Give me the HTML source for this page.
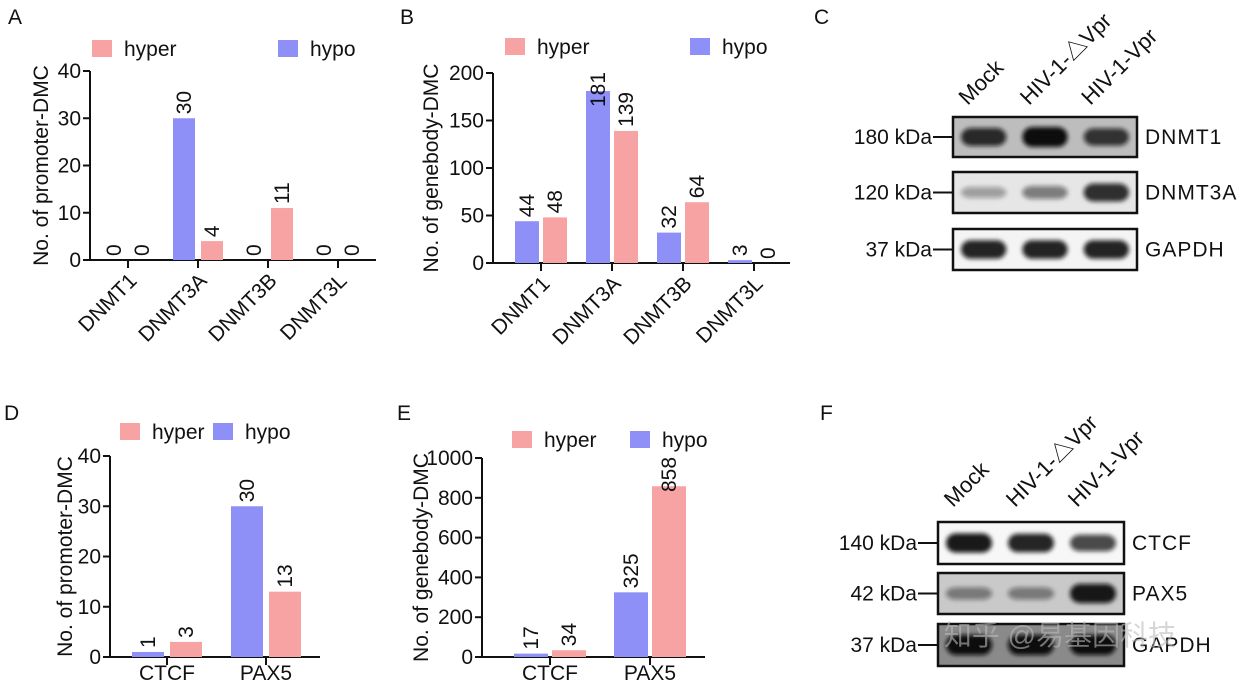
<!DOCTYPE html>
<html><head><meta charset="utf-8">
<style>
html,body{margin:0;padding:0;background:#fff;}
svg{display:block;font-family:"Liberation Sans","Noto Sans CJK SC",sans-serif;}
</style></head>
<body>
<svg id="fig" width="1241" height="688" viewBox="0 0 1241 688" xmlns="http://www.w3.org/2000/svg">
<defs>
<filter id="blur2" x="-20%" y="-50%" width="140%" height="200%"><feGaussianBlur stdDeviation="2"/></filter>
</defs>
<g font-size="21" fill="#111">
<text x="8" y="24">A</text>
<text x="400" y="24">B</text>
<text x="814" y="24">C</text>
<text x="4" y="420">D</text>
<text x="397" y="420">E</text>
<text x="820" y="420">F</text>
</g>
<g id="charts"></g>
<g id="blots"></g>
<text x="1060" y="645" font-size="28" fill="#bbb" fill-opacity="0.6" text-anchor="middle">知乎 @易基因科技</text>
</svg>
<script>
// ---- Panel A data ----
const aCategories = ["DNMT1","DNMT3A","DNMT3B","DNMT3L"];
const aHypo = [0,30,0,0];
const aHyper = [0,4,11,0];
const aTicks = [0,10,20,30,40];
// ---- Panel B data ----
const bCategories = ["DNMT1","DNMT3A","DNMT3B","DNMT3L"];
const bHypo = [44,181,32,3];
const bHyper = [48,139,64,0];
const bTicks = [0,50,100,150,200];
// ---- Panel D data ----
const dCategories = ["CTCF","PAX5"];
const dHypo = [1,30];
const dHyper = [3,13];
const dTicks = [0,10,20,30,40];
// ---- Panel E data ----
const eCategories = ["CTCF","PAX5"];
const eHypo = [17,325];
const eHyper = [34,858];
const eTicks = [0,200,400,600,800,1000];

const NS = "http://www.w3.org/2000/svg";
const HYPO = "#8f8ff8", HYPER = "#f8a3a3";
function el(tag, attrs, parent, text){
  const e = document.createElementNS(NS, tag);
  for (const k in attrs) e.setAttribute(k, attrs[k]);
  if (text !== undefined) e.textContent = text;
  parent.appendChild(e);
  return e;
}
const root = document.getElementById('charts');

function chart(cfg){
  const g = el('g', {}, root);
  
  
  const yMax = cfg.ticks[cfg.ticks.length-1];
  const y = v => cfg.y0 - v/yMax*(cfg.y0-cfg.yTop);
  const x = i => cfg.c0 + i*cfg.step;
  const ya = el('line', {x1:cfg.ax, x2:cfg.ax, y1:cfg.yTop, y2:cfg.y0, stroke:'#111','stroke-width':2}, g);
  
  
  cfg.ticks.forEach(t=>{
    el('line',{x1:cfg.ax-7,x2:cfg.ax,y1:y(t),y2:y(t),stroke:'#111','stroke-width':2},g);
    const tl = el('text',{x:cfg.ax-9,y:y(t)+7,'text-anchor':'end','font-size':21,fill:'#111'},g,String(t));
    
    
  });
  const xa = el('line',{x1:cfg.ax,x2:cfg.axEnd,y1:cfg.y0,y2:cfg.y0,stroke:'#111','stroke-width':2},g);
  
  
  const yt = el('text',{x:0,y:0,'text-anchor':'middle','font-size':21,fill:'#111',transform:`translate(${cfg.ytx},${(cfg.yTop+cfg.y0)/2}) rotate(-90)`},g,cfg.ytitle);
  
  
  cfg.cats.forEach((c,i)=>{
    const cx = x(i);
    el('line',{x1:cx,x2:cx,y1:cfg.y0,y2:cfg.y0+8,stroke:'#111','stroke-width':2},g);
    let lab;
    if (cfg.rotLabels){
      lab = el('text',{x:0,y:0,'text-anchor':'end','font-size':21,fill:'#111',transform:`translate(${cx+10},${cfg.y0+22}) rotate(-45)`},g,c);
    } else {
      lab = el('text',{x:cx,y:cfg.y0+23,'text-anchor':'middle','font-size':21,fill:'#111'},g,c);
    }
    
    
    [[cfg.hypo[i],HYPO,-cfg.off,'bar-hypo'],[cfg.hyper[i],HYPER,cfg.off,'bar-hyper']].forEach(([v,col,o,nm])=>{
      const bx = cx+o-cfg.bw/2;
      const top = y(v);
      if (v>0){
        const r = el('rect',{x:bx,y:top,width:cfg.bw,height:cfg.y0-top,fill:col},g);
        
        
      }
      const s = String(v);
      const len = s.length*12;
      let end = top-4;
      if (end-len < cfg.yTop-2) end = cfg.yTop-2+len;
      const vl = el('text',{x:0,y:0,'text-anchor':'start','font-size':21,fill:'#111',transform:`translate(${cx+o+7},${end}) rotate(-90)`},g,s);
      
      
    });
  });
  [[cfg.leg[0],HYPER,'hyper','legend-hyper'],[cfg.leg[1],HYPO,'hypo','legend-hypo']].forEach(([lx,col,t,nm])=>{
    const lg = el('g',{},g);
    
    
    el('rect',{x:lx,y:cfg.legY,width:20,height:17,fill:col},lg);
    el('text',{x:lx+32,y:cfg.legY+16,'font-size':21,fill:'#111'},lg,t);
  });
}

chart({name:'chart-a',cats:aCategories,hypo:aHypo,hyper:aHyper,ticks:aTicks,ax:90,axEnd:376,y0:260,yTop:71,c0:128,step:70,off:14,bw:22,ytx:48,ytitle:'No. of promoter-DMC',rotLabels:true,leg:[92,278],legY:40});
chart({name:'chart-b',cats:bCategories,hypo:bHypo,hyper:bHyper,ticks:bTicks,ax:493,axEnd:790,y0:263,yTop:73,c0:541,step:71,off:14,bw:24,ytx:438,ytitle:'No. of genebody-DMC',rotLabels:true,leg:[505,690],legY:38});
chart({name:'chart-d',cats:dCategories,hypo:dHypo,hyper:dHyper,ticks:dTicks,ax:110,axEnd:320,y0:657,yTop:456,c0:167,step:99,off:19,bw:32,ytx:72,ytitle:'No. of promoter-DMC',rotLabels:false,leg:[120,213],legY:423});
chart({name:'chart-e',cats:eCategories,hypo:eHypo,hyper:eHyper,ticks:eTicks,ax:482,axEnd:705,y0:657,yTop:458,c0:550,step:100,off:19,bw:34,ytx:428,ytitle:'No. of genebody-DMC',rotLabels:false,leg:[512,630],legY:431});

// ---- blots ----
const blotC_lanes = ["Mock","HIV-1-△Vpr","HIV-1-Vpr"];
const blotC_rows = ["DNMT1","DNMT3A","GAPDH"];
const blotC_kda = ["180 kDa","120 kDa","37 kDa"];
const blotC_int = [[0.85,1.0,0.8],[0.35,0.5,0.85],[0.9,0.9,0.9]];
const blotF_lanes = ["Mock","HIV-1-△Vpr","HIV-1-Vpr"];
const blotF_rows = ["CTCF","PAX5","GAPDH"];
const blotF_kda = ["140 kDa","42 kDa","37 kDa"];
const blotF_int = [[0.95,0.9,0.75],[0.45,0.45,0.95],[1,1,1]];
const broot = document.getElementById('blots');
function blot(cfg){
  const g = el('g',{},broot);
  
  
  const w = cfg.x1-cfg.x0;
  cfg.lanes.forEach((l,i)=>{
    const lx = cfg.x0 + w*(i*2+1)/6;
    const t = el('text',{x:0,y:0,'font-size':22,fill:'#111',transform:`translate(${lx-16},${cfg.labY}) rotate(-45)`},g,l);
    
    
  });
  cfg.rows.forEach((r,j)=>{
    const [ya,yb] = cfg.ry[j];
    const bg = cfg.bg[j];
    el('rect',{x:cfg.x0,y:ya,width:w,height:yb-ya,fill:bg,stroke:'#111','stroke-width':2.5},g);
    const ym = (ya+yb)/2;
    cfg.int[j].forEach((v,i)=>{
      const lx = cfg.x0 + w*(i*2+1)/6;
      const b = el('rect',{x:lx-w/6+8,y:ym-(3+v*7),width:w/3-16,height:2*(3+v*7),rx:10,fill:'#111','fill-opacity':v,filter:'url(#blur2)'},g);
      
      
    });
    el('line',{x1:cfg.x0-20,x2:cfg.x0,y1:ym,y2:ym,stroke:'#111','stroke-width':2},g);
    const k = el('text',{x:cfg.x0-21,y:ym+7,'text-anchor':'end','font-size':21,fill:'#111'},g,cfg.kda[j]);
    
    
    const n = el('text',{x:cfg.x1+8,y:ym+7,'font-size':21,fill:'#111','letter-spacing':'1'},g,r);
    
    
  });
}
blot({name:'blot-c',lanes:blotC_lanes,rows:blotC_rows,kda:blotC_kda,int:blotC_int,x0:953,x1:1137,labY:106,ry:[[117,157],[172,213],[229,270]],bg:['#bdbdbd','#e6e6e6','#f4f4f4']});
blot({name:'blot-f',lanes:blotF_lanes,rows:blotF_rows,kda:blotF_kda,int:blotF_int,x0:938,x1:1124,labY:508,ry:[[522,564],[573,614],[624,666]],bg:['#f7f7f7','#c9c9c9','#8a8a8a']});
</script>
</body></html>
